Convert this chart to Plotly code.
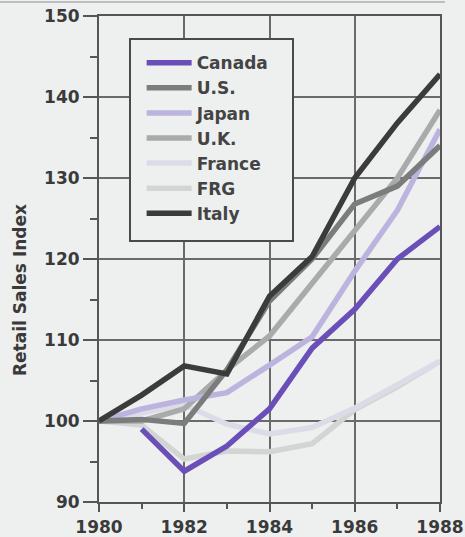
import plotly.graph_objects as go

years = [1980, 1981, 1982, 1983, 1984, 1985, 1986, 1987, 1988]
canada_years = [1981, 1982, 1983, 1984, 1985, 1986, 1987, 1988]
canada = [99.0, 93.8, 96.9, 101.5, 109.0, 113.8, 120.0, 124.0]
us = [100.0, 100.2, 99.7, 106.3, 114.8, 120.0, 126.8, 129.0, 134.0]
japan = [100.0, 101.5, 102.6, 103.5, 106.9, 110.4, 118.5, 126.0, 136.0]
uk = [100.0, 100.0, 101.5, 106.3, 110.5, 117.0, 123.3, 130.0, 138.4]
france = [100.0, 101.0, 102.0, 99.6, 98.4, 99.2, 101.6, 104.5, 107.4]
frg = [100.0, 99.5, 95.3, 96.3, 96.2, 97.2, 101.4, 104.2, 107.4]
italy = [100.0, 103.2, 106.8, 105.8, 115.4, 120.3, 130.0, 136.8, 142.8]

series = [
    ("Canada", canada_years, canada, "#6b4fb8"),
    ("U.S.", years, us, "#7b7c7c"),
    ("Japan", years, japan, "#bcb4de"),
    ("U.K.", years, uk, "#a9abab"),
    ("France", years, france, "#dcdce9"),
    ("FRG", years, frg, "#d3d5d5"),
    ("Italy", years, italy, "#3b3b39"),
]
draw_order = ["FRG", "France", "U.K.", "Japan", "U.S.", "Canada", "Italy"]
legend_rank = {s[0]: i for i, s in enumerate(series)}
lookup = {s[0]: s for s in series}

fig = go.Figure()
for name in draw_order:
    _, xs, ys, col = lookup[name]
    fig.add_trace(go.Scatter(
        x=xs, y=ys, name=name, mode="lines",
        line=dict(color=col, width=5.5),
        legendrank=legend_rank[name],
        legendgroup=name,
    ))

font_family = "'DejaVu Sans', sans-serif"
bg = "#eef0ef"
axis_col = "#555555"
text_col = "#3a3a3a"

fig.update_layout(
    width=465, height=537,
    margin=dict(l=99, r=25, t=16, b=35, autoexpand=False),
    paper_bgcolor=bg,
    plot_bgcolor=bg,
    font=dict(family=font_family, color=text_col, size=16),
    showlegend=True,
    legend=dict(
        x=0.125, y=0.94, xanchor="left", yanchor="top",
        bgcolor="rgba(0,0,0,0)", borderwidth=0,
        font=dict(size=17, color="#444444", family=font_family, weight="bold"),
        itemwidth=45,
        tracegroupgap=0,
    ),
    xaxis=dict(
        range=[1980, 1988], tickvals=[1980, 1982, 1984, 1986, 1988],
        showgrid=True, gridcolor="#6a6a6a", gridwidth=2,
        showline=True, linecolor=axis_col, linewidth=2, mirror=True,
        ticks="outside", ticklen=8, tickwidth=2, tickcolor=axis_col,
        minor=dict(tickvals=[1981, 1983, 1985, 1987], ticks="outside",
                   ticklen=5, tickwidth=2, tickcolor=axis_col, showgrid=False),
        tickfont=dict(size=17, color=text_col, weight="bold"),
        ticklabelstandoff=1,
        zeroline=False, automargin=False,
    ),
    yaxis=dict(
        range=[90, 150], tickvals=[90, 100, 110, 120, 130, 140, 150],
        showgrid=True, gridcolor="#6a6a6a", gridwidth=2,
        showline=True, linecolor=axis_col, linewidth=2, mirror=True,
        ticks="outside", ticklen=14, tickwidth=2, tickcolor=axis_col,
        minor=dict(tickvals=[95, 105, 115, 125, 135, 145], ticks="outside",
                   ticklen=7, tickwidth=2, tickcolor=axis_col, showgrid=False),
        tickfont=dict(size=17, color=text_col, weight="bold"),
        zeroline=False, automargin=False,
    ),
)

# legend frame
fig.add_shape(type="rect", xref="paper", yref="paper",
              x0=(130 - 99) / 341, x1=(293 - 99) / 341,
              y0=(502 - 241) / 486, y1=(502 - 39) / 486,
              line=dict(color="#4a4a4a", width=2), fillcolor=bg, layer="above")
# top rule
fig.add_shape(type="line", xref="paper", yref="paper",
              x0=-99 / 341, x1=(445 - 99) / 341,
              y0=(502 - 2) / 486, y1=(502 - 2) / 486,
              line=dict(color="#8a8a8a", width=1))

fig.add_annotation(
    text="Retail Sales Index", textangle=-90, showarrow=False,
    xref="paper", yref="paper", x=(20 - 99) / 341, y=(502 - 290) / 486,
    xanchor="center", yanchor="middle",
    font=dict(size=17, color=text_col, family=font_family, weight="bold"),
)

fig.write_html("out.html",
               config={"displayModeBar": False},
               post_script="document.body.style.margin='0';document.body.style.background='%s';" % bg)
